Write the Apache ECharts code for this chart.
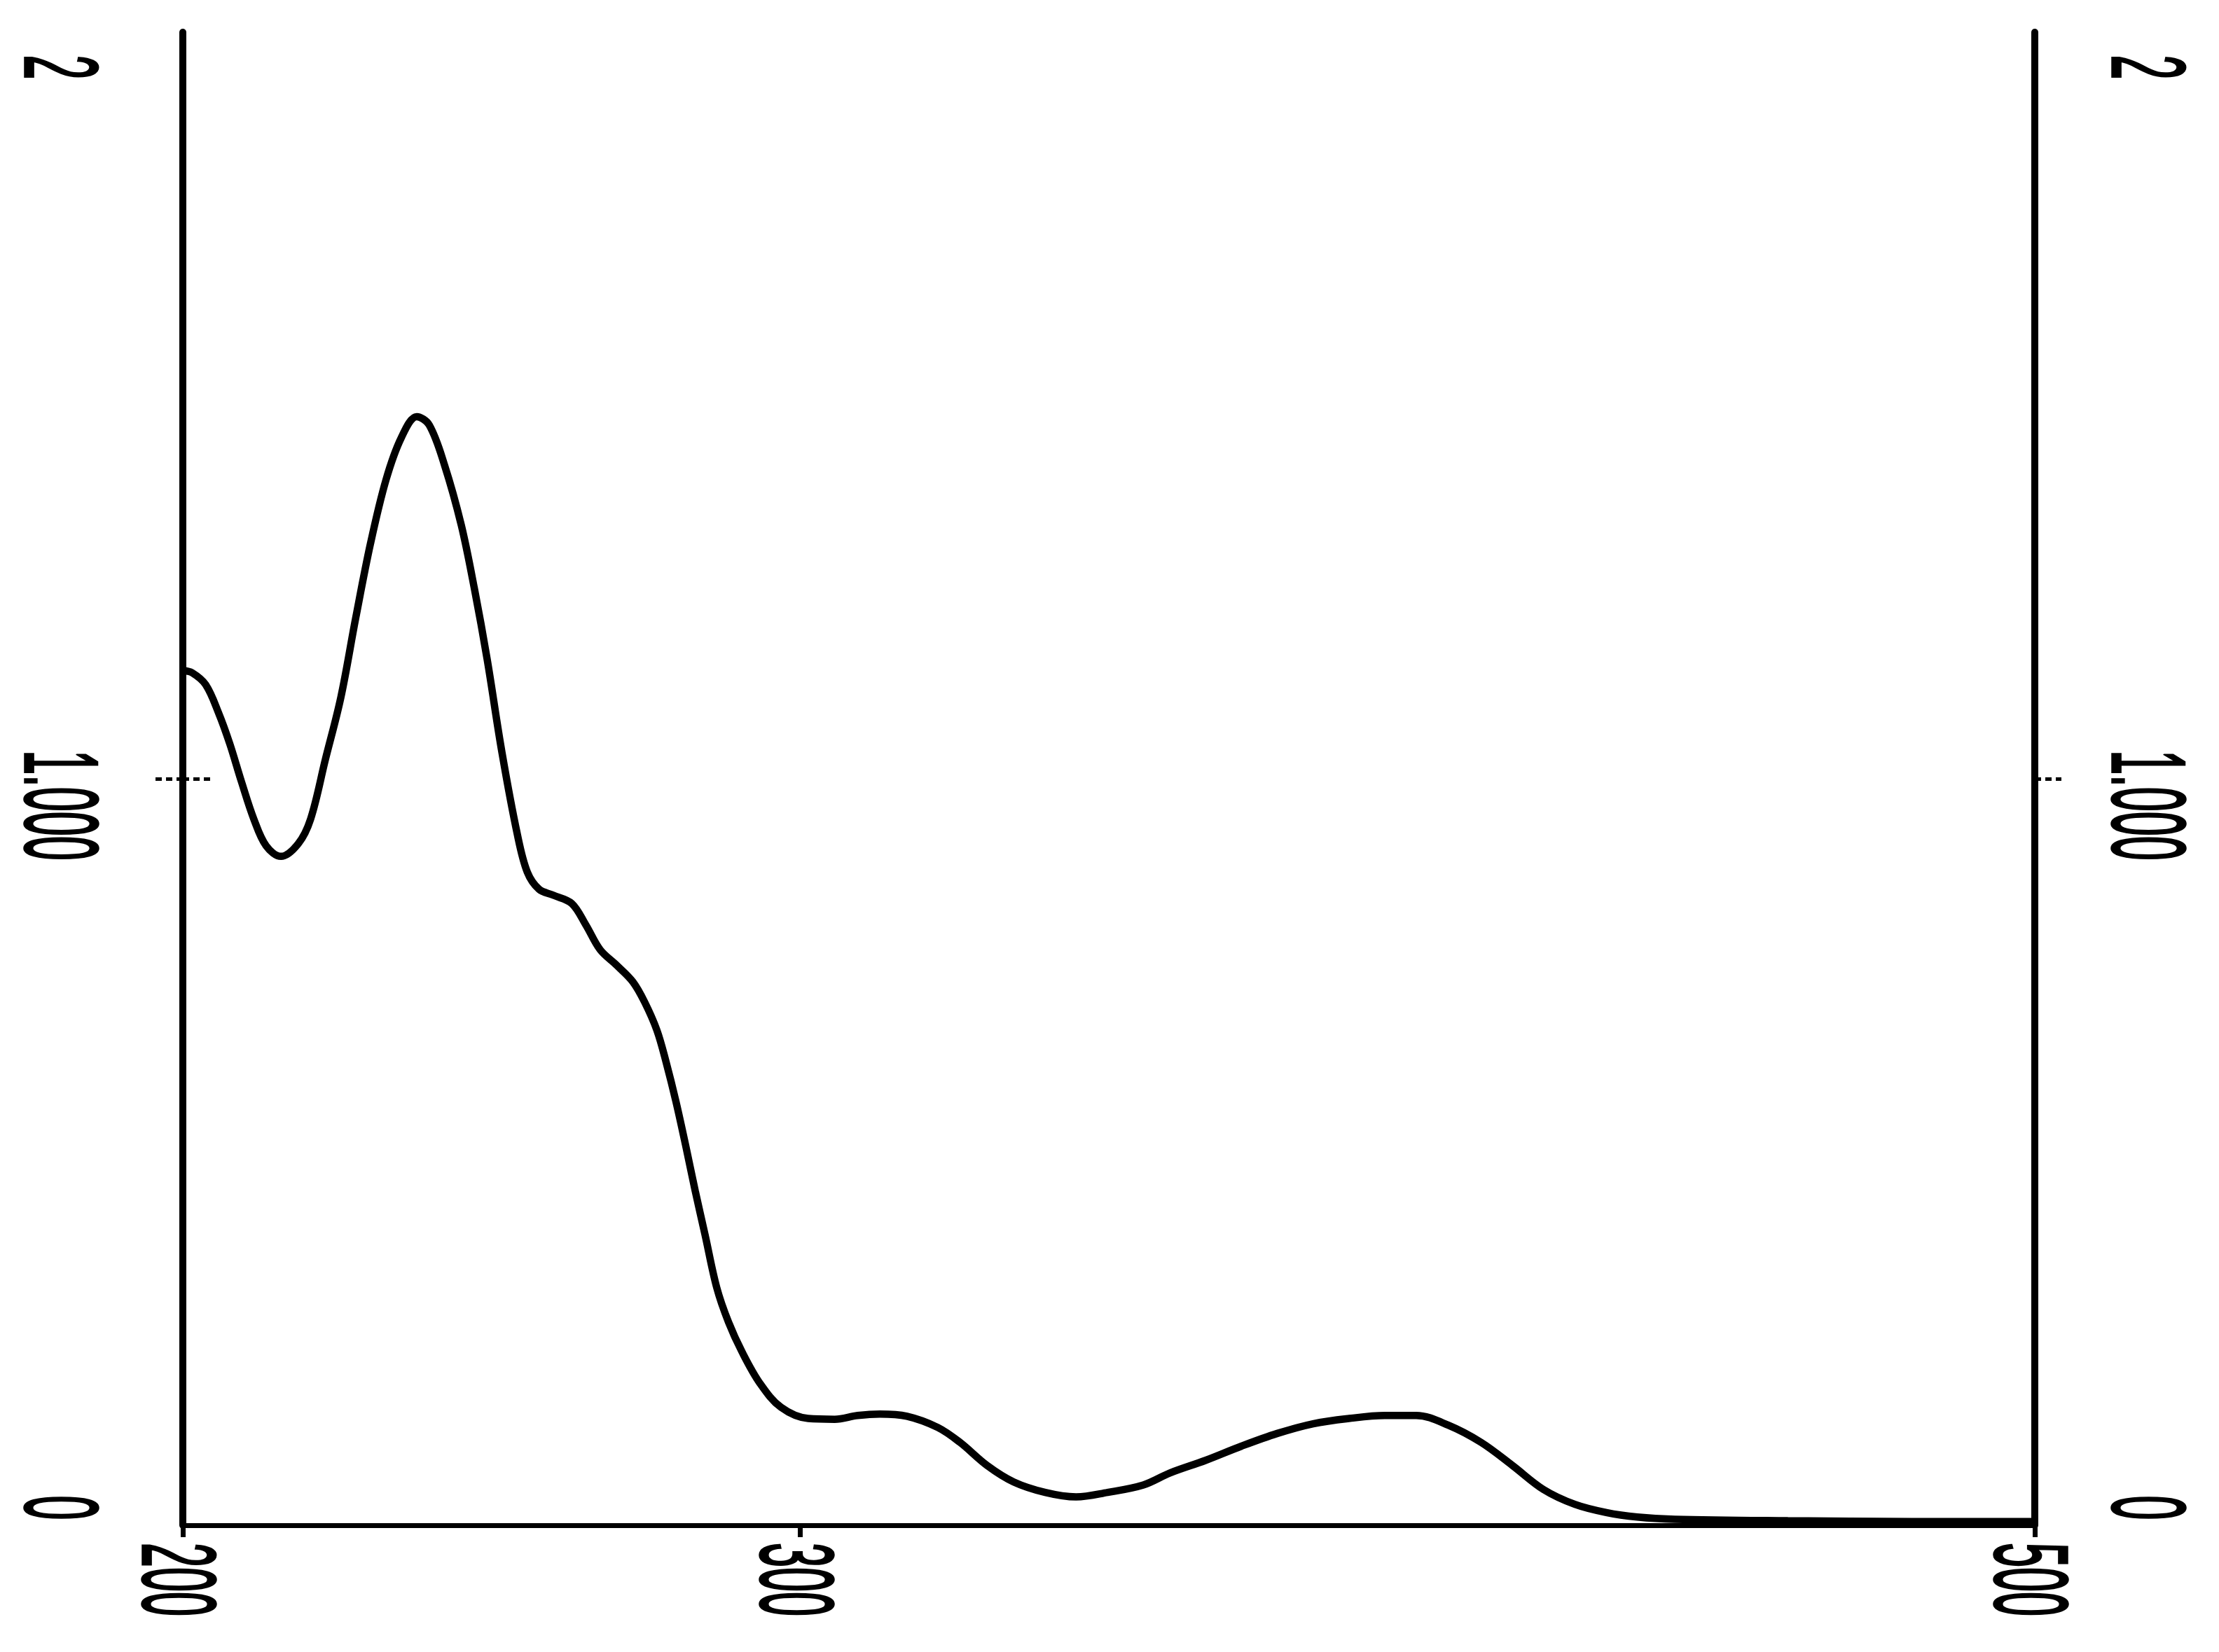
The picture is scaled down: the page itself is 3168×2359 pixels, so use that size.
<!DOCTYPE html>
<html><head><meta charset="utf-8">
<script src="https://cdn.jsdelivr.net/npm/echarts@6/dist/echarts.min.js"></script>
<style>html,body{margin:0;padding:0;background:#fff;}#c{width:3168px;height:2359px;}</style>
</head><body><div id="c"></div>
<script>
// Wavelength (nm) and absorbance
const wavelength = [200.0, 201.5, 203.7, 205.8, 207.6, 209.5, 211.5, 213.5, 215.9, 218.7,
  220.7, 223.1, 225.6, 228.0, 230.4, 232.9, 235.4, 237.9, 239.9, 242.4,
  245.1, 247.2, 249.3, 251.7, 254.2, 255.8, 257.7, 260.0, 263.0, 265.3,
  267.6, 270.3, 272.9, 274.8, 276.8, 278.3, 279.9, 281.5, 283.0, 284.6,
  286.5, 288.4, 290.6, 293.5, 296.9, 301.3, 305.6, 309.3, 312.9, 317.3,
  322.3, 325.9, 330.3, 334.6, 339.7, 344.7, 349.8, 355.6, 359.9, 365.7,
  371.5, 377.3, 383.1, 388.9, 394.7, 399.8, 405.0, 410.3, 415.4, 420.4,
  425.5, 430.6, 435.6, 441.7, 460.0, 480.0, 500.0];
const absorbance = [1.145, 1.142, 1.126, 1.088, 1.047, 0.996, 0.946, 0.910, 0.896, 0.913,
  0.946, 1.026, 1.109, 1.215, 1.315, 1.400, 1.457, 1.485, 1.474, 1.420,
  1.340, 1.256, 1.160, 1.035, 0.925, 0.875, 0.852, 0.844, 0.833, 0.804,
  0.771, 0.750, 0.728, 0.701, 0.663, 0.620, 0.567, 0.507, 0.448, 0.389,
  0.318, 0.272, 0.232, 0.190, 0.158, 0.143, 0.142, 0.147, 0.149, 0.146,
  0.131, 0.111, 0.080, 0.058, 0.044, 0.038, 0.044, 0.054, 0.070, 0.087,
  0.106, 0.123, 0.136, 0.143, 0.147, 0.147, 0.134, 0.111, 0.080, 0.048,
  0.028, 0.017, 0.011, 0.008, 0.006, 0.005, 0.005];

const xTickValues = [200, 300, 500];
const xTickLabels = ['200', '300', '500'];
const yLabelValues = [0, 1, 2];
const yLabelTexts = ['0', '1.000', '2'];
const yTickValues = [1];

// label styling (tall, narrow plotter-style digits)
const LABEL_FAMILY = 'Liberation Sans';
const LABEL_SIZE = 63;
const LABEL_STRETCH = 2.35;
const LABEL_X_CORR = -16;
const X_LABEL_GAP = 25;
const Y_LABEL_DIST = 168;
const Y_LABEL_SHIFT = [-25, 38, 50];

const chart = echarts.init(document.getElementById('c'), null, {renderer: 'canvas'});

const dashedTick = {color: '#000', width: 5, type: [9, 6]};
function yAxisDef(pos, tickLen) {
  return {
    type: 'value', position: pos, min: 0, max: 2,
    splitLine: {show: false},
    axisLine: {show: true, lineStyle: {color: '#000', width: 10}},
    axisTick: {show: true, customValues: yTickValues, length: tickLen, lineStyle: dashedTick},
    axisLabel: {show: false}
  };
}

chart.setOption({
  backgroundColor: '#fff',
  animation: false,
  grid: {left: 261, right: 263, top: 46, bottom: 181, containLabel: false},
  xAxis: {
    type: 'value', min: 200, max: 500,
    splitLine: {show: false},
    axisLine: {show: true, onZero: false, lineStyle: {color: '#000', width: 7}},
    axisTick: {show: true, customValues: xTickValues, length: 17,
      lineStyle: {color: '#000', width: 7}},
    axisLabel: {show: false}
  },
  yAxis: [
    yAxisDef('left', 43),
    yAxisDef('right', 38),
    {
      type: 'value', position: 'left', min: 0, max: 2,
      splitLine: {show: false}, axisLine: {show: false}, axisLabel: {show: false},
      axisTick: {show: true, inside: true, customValues: yTickValues, length: 43, lineStyle: dashedTick}
    }
  ],
  series: [{
    type: 'line',
    yAxisIndex: 0,
    data: wavelength.map((w, i) => [w, absorbance[i]]),
    smooth: 0.35,
    showSymbol: false,
    clip: false,
    lineStyle: {color: '#000', width: 10.5}
  }]
});

// Tick labels placed through the axis scales
function labelEl(text, x, y, align) {
  return {
    type: 'text', x: x + LABEL_X_CORR, y: y, rotation: -Math.PI / 2, scaleY: LABEL_STRETCH, silent: true,
    style: {text: text, fill: '#000', fontFamily: LABEL_FAMILY, fontSize: LABEL_SIZE,
      stroke: '#000', lineWidth: 1.5,
      align: align, verticalAlign: 'middle'}
  };
}
const y0 = chart.convertToPixel({yAxisIndex: 0}, 0);
const xLeft = chart.convertToPixel({xAxisIndex: 0}, 200);
const xRight = chart.convertToPixel({xAxisIndex: 0}, 500);
const labels = [];
xTickValues.forEach((v, i) => {
  labels.push(labelEl(xTickLabels[i], chart.convertToPixel({xAxisIndex: 0}, v), y0 + X_LABEL_GAP, 'left'));
});
yLabelValues.forEach((v, i) => {
  const py = chart.convertToPixel({yAxisIndex: 0}, v) + Y_LABEL_SHIFT[i];
  labels.push(labelEl(yLabelTexts[i], xLeft - Y_LABEL_DIST, py, 'center'));
  labels.push(labelEl(yLabelTexts[i], xRight + Y_LABEL_DIST, py, 'center'));
});
chart.setOption({graphic: labels});
</script>
</body></html>
